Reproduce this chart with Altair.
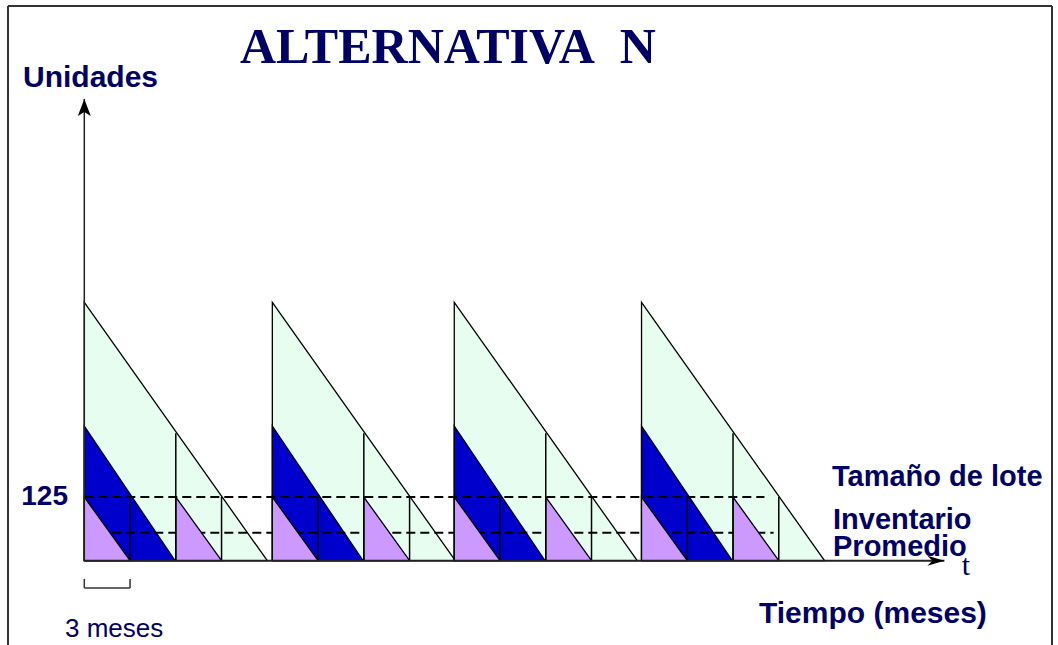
import altair as alt
import pandas as pd

# Replenishment cycles (start month of each cycle)
cycle_start = [0.0, 12.33, 24.26, 36.54]

# Saw-tooth shapes: peak in units, length in months, offsets inside a cycle
green_peak, green_span = 507, 12.0
blue_peak, blue_span = 264, 5.95
purple_peak, purple_span = 125, 3.0
purple_offsets = [0.0, 6.0]

# Vertical dividers inside each cycle
divider_offsets = [3.0, 6.0, 9.0]
divider_tops = [125, 250, 125]

# Reference levels
lot_size = 125
lot_size_end = 44.6
avg_inventory = 55
avg_inventory_end = 45.2

# Axis extents
time_axis_end = 56.4
units_axis_end = 906
bracket_months = [0.0, 3.0]

NAVY = "#000066"
W, H = 1058, 645
xs = alt.Scale(domain=[-5.528, 63.85], nice=False, zero=False)
ys = alt.Scale(domain=[-165.4, 1100.3], nice=False, zero=False)


def triangles(name, offsets, peak, span):
    rows = []
    for i, s in enumerate(cycle_start):
        for j, off in enumerate(offsets):
            key = f"{name}-{i}-{j}"
            rows.append({"tri": key, "month": s + off, "units": peak, "floor": 0})
            rows.append({"tri": key, "month": s + off + span, "units": 0, "floor": 0})
    return pd.DataFrame(rows)


def area_layer(df, color):
    return alt.Chart(df).mark_area(
        fill=color, stroke="black", strokeWidth=1.3, opacity=1
    ).encode(
        x=alt.X("month:Q", scale=xs, axis=None),
        y=alt.Y("units:Q", scale=ys, axis=None, stack=None),
        y2=alt.Y2("floor:Q"),
        detail="tri:N",
    )


green = area_layer(triangles("g", [0.0], green_peak, green_span), "#E6FDF0")
blue = area_layer(triangles("b", [0.0], blue_peak, blue_span), "#0000CC")
purple = area_layer(triangles("p", purple_offsets, purple_peak, purple_span), "#CC99FF")

levels = pd.DataFrame({
    "name": ["lot", "avg"],
    "lvl": [lot_size, avg_inventory],
    "m0": [0.0, 0.0],
    "m1": [lot_size_end, avg_inventory_end],
})


def dashed(df):
    return alt.Chart(df).mark_rule(
        color="black", strokeWidth=2, strokeDash=[9, 5]
    ).encode(
        x=alt.X("m0:Q", scale=xs, axis=None), x2="m1:Q",
        y=alt.Y("lvl:Q", scale=ys, axis=None),
    )


avg_line = dashed(levels[levels.name == "avg"])
lot_line = dashed(levels[levels.name == "lot"])

div_rows = []
for s in cycle_start:
    for off, top in zip(divider_offsets, divider_tops):
        div_rows.append({"m": s + off, "u0": 0, "u1": top})
dividers = alt.Chart(pd.DataFrame(div_rows)).mark_rule(
    color="black", strokeWidth=1.5
).encode(
    x=alt.X("m:Q", scale=xs, axis=None),
    y=alt.Y("u0:Q", scale=ys, axis=None), y2="u1:Q",
)

# Axes drawn as plain lines with arrow heads
axes_df = pd.DataFrame({
    "m0": [0.0, 0.0], "m1": [time_axis_end, 0.0],
    "u0": [0, 0], "u1": [0, units_axis_end], "w": [2.0, 1.5],
})
axes = alt.Chart(axes_df).mark_rule(color="#222222").encode(
    x=alt.X("m0:Q", scale=xs, axis=None), x2="m1:Q",
    y=alt.Y("u0:Q", scale=ys, axis=None), y2="u1:Q",
    strokeWidth=alt.StrokeWidth("w:Q", scale=None, legend=None),
)

up_head = alt.Chart(pd.DataFrame({"m": [0.0], "u": [units_axis_end]})).mark_point(
    shape="M0,0 L6.5,17 L0,13 L-6.5,17 Z", size=4, filled=True,
    fill="black", opacity=1, strokeWidth=0,
).encode(
    x=alt.X("m:Q", scale=xs, axis=None), y=alt.Y("u:Q", scale=ys, axis=None)
)
right_head = alt.Chart(pd.DataFrame({"m": [time_axis_end], "u": [0]})).mark_point(
    shape="M0,0 L-17,-5 L-12,0 L-17,5 Z", size=4, filled=True,
    fill="black", opacity=1, strokeWidth=0,
).encode(
    x=alt.X("m:Q", scale=xs, axis=None), y=alt.Y("u:Q", scale=ys, axis=None)
)

# Bracket marking a 3-month span under the first cycle
bracket_y, bracket_tip = -53.6, -35.7
bracket_df = pd.DataFrame({
    "m0": [bracket_months[0], bracket_months[0], bracket_months[1]],
    "m1": [bracket_months[1], bracket_months[0], bracket_months[1]],
    "u0": [bracket_y, bracket_y, bracket_y],
    "u1": [bracket_y, bracket_tip, bracket_tip],
})
bracket = alt.Chart(bracket_df).mark_rule(color="#333333", strokeWidth=1.5).encode(
    x=alt.X("m0:Q", scale=xs, axis=None), x2="m1:Q",
    y=alt.Y("u0:Q", scale=ys, axis=None), y2="u1:Q",
)

tick_label = alt.Chart(pd.DataFrame({"u": [lot_size], "t": [str(lot_size)]})).mark_text(
    font="Liberation Sans", fontWeight="bold", fontSize=28, color=NAVY,
    align="right", baseline="middle",
).encode(
    x=alt.value(68), y=alt.Y("u:Q", scale=ys, axis=None), text="t:N"
)


def label(txt, x, y, size, weight="bold", font="Liberation Sans", color=NAVY, align="left"):
    return alt.Chart(pd.DataFrame({"t": [txt]})).mark_text(
        font=font, fontWeight=weight, fontSize=size, color=color,
        align=align, baseline="alphabetic",
    ).encode(x=alt.value(x), y=alt.value(y), text="t:N")


texts = [
    label("ALTERNATIVA\u00a0\u00a0N", 240, 63, 50, font="Liberation Serif"),
    label("Unidades", 23, 87, 30),
    label("Tamaño de lote", 832, 486, 29),
    label("Inventario", 833, 529, 29),
    label("Promedio", 833, 556, 29),
    label("t", 966, 575, 30, weight="normal", font="Liberation Serif", align="center"),
    label("Tiempo (meses)", 759, 623, 30),
    label("3 meses", 65, 637, 26, weight="normal"),
]

# Outer frame
frame_df = pd.DataFrame({"k": [0]})
frame = [
    alt.Chart(frame_df).mark_rule(color="#333333", strokeWidth=2).encode(
        x=alt.value(8), y=alt.value(6), y2=alt.value(H)),
    alt.Chart(frame_df).mark_rule(color="#333333", strokeWidth=2).encode(
        x=alt.value(8), x2=alt.value(1052), y=alt.value(6)),
    alt.Chart(frame_df).mark_rule(color="#333333", strokeWidth=2).encode(
        x=alt.value(1052), y=alt.value(6), y2=alt.value(H)),
]

chart = alt.layer(
    green, blue, avg_line, purple, dividers, lot_line, axes,
    up_head, right_head, bracket, tick_label, *texts, *frame,
).properties(
    width=W, height=H, padding=0, autosize="none"
).configure_view(stroke=None)

chart.save("out.html", embed_options={"renderer": "svg", "actions": False})
